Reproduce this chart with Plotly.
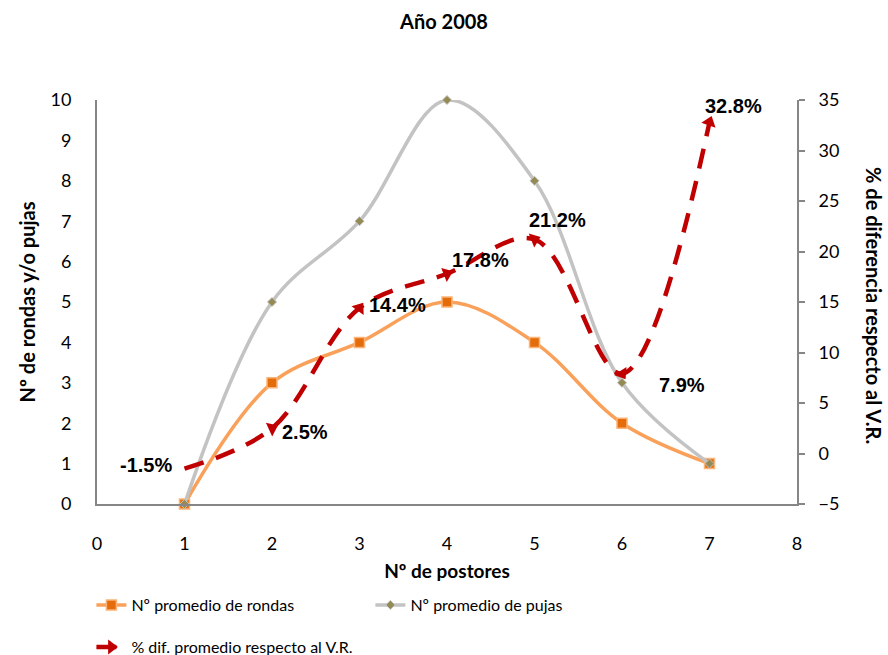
import plotly.graph_objects as go

postores = [1, 2, 3, 4, 5, 6, 7]
rondas = [0, 3, 4, 5, 4, 2, 1]
pujas = [0, 5, 7, 10, 8, 3, 1]
pct_dif = [-1.5, 2.5, 14.4, 17.8, 21.2, 7.9, 32.8]
pct_labels = ["-1.5%", "2.5%", "14.4%", "17.8%", "21.2%", "7.9%", "32.8%"]
# pixel offsets of each % label from its point
label_dx = [-39, 33, 38, 33, 23, 60, 24]
label_dy = [4, -4, 3, 14, 19, -11, 16]

TITLE = "<b>Año 2008</b>"
X_TITLE = "<b>Nº de postores</b>"
Y1_TITLE = "<b>Nº de rondas y/o pujas</b>"
Y2_TITLE = "<b>% de diferencia respecto al V.R.</b>"
FONT = "Lato, 'Open Sans', sans-serif"
AXIS_GREY = "#868686"
RED = "#C00000"

fig = go.Figure()

fig.add_trace(go.Scatter(
    x=postores, y=rondas, name="Nº promedio de rondas",
    mode="lines+markers", line=dict(color="#F9A15A", width=3.5, shape="spline"),
    marker=dict(symbol="square", size=10, color="#E46C0A",
                line=dict(color="#FAB47A", width=1.5)),
    cliponaxis=False, legend="legend",
))
fig.add_trace(go.Scatter(
    x=postores, y=pujas, name="Nº promedio de pujas",
    mode="lines+markers", line=dict(color="#C3C3C3", width=3.5, shape="spline"),
    marker=dict(symbol="diamond", size=7, color="#948A54",
                line=dict(color="#C3C3C3", width=1)),
    cliponaxis=False, legend="legend",
))
fig.add_trace(go.Scatter(
    x=postores, y=pct_dif, name="% dif. promedio respecto al V.R.", yaxis="y2",
    mode="lines+markers",
    line=dict(color=RED, width=4.5, dash="20px,13px", shape="spline"),
    marker=dict(symbol="triangle-up", size=13, color=RED, angleref="previous"),
    cliponaxis=False, legend="legend2",
))

for x, y, txt, dx, dy in zip(postores, pct_dif, pct_labels, label_dx, label_dy):
    fig.add_annotation(
        x=x, y=y, xref="x", yref="y2", text=f"<b>{txt}</b>", showarrow=False,
        xshift=dx, yshift=dy,
        font=dict(family="Liberation Sans, Arial", size=20, color="black"),
    )

fig.update_layout(
    width=888, height=655,
    margin=dict(l=97, r=91, t=100, b=151, autoexpand=False),
    plot_bgcolor="white", paper_bgcolor="white",
    font=dict(family=FONT, color="black", size=18),
    title=dict(text=TITLE, x=0.5, xanchor="center", y=0.967, yanchor="middle",
               font=dict(size=20), automargin=False),
    xaxis=dict(range=[0, 8], dtick=1, showline=True, linecolor=AXIS_GREY, linewidth=2,
               showgrid=False, zeroline=False, ticks="", ticklabelstandoff=22,
               automargin=False,
               title=dict(text=X_TITLE, font=dict(size=19), standoff=12)),
    yaxis=dict(range=[0, 10], dtick=1, showline=True, linecolor=AXIS_GREY, linewidth=2,
               showgrid=False, zeroline=False, ticks="", ticklabelstandoff=20,
               automargin=False,
               title=dict(text=Y1_TITLE, font=dict(size=20), standoff=10)),
    yaxis2=dict(range=[-5, 35], dtick=5, overlaying="y", side="right", showline=True,
                linecolor=AXIS_GREY, linewidth=2, showgrid=False, zeroline=False,
                ticks="outside", ticklen=6, tickcolor=AXIS_GREY, tickwidth=2,
                ticklabelstandoff=10, automargin=False),
    legend=dict(orientation="h", x=-0.008, xanchor="left", y=-0.25, yanchor="middle",
                entrywidth=234, font=dict(size=16)),
    legend2=dict(orientation="h", x=-0.008, xanchor="left", y=-0.354, yanchor="middle",
                 font=dict(size=16)),
    showlegend=True,
)

fig.add_annotation(
    text=Y2_TITLE, textangle=90, xref="paper", yref="paper",
    x=1.13, y=0.49, showarrow=False, font=dict(size=20),
)

fig.write_html("out.html", config={"displayModeBar": False},
               post_script="document.body.style.margin='0';")
